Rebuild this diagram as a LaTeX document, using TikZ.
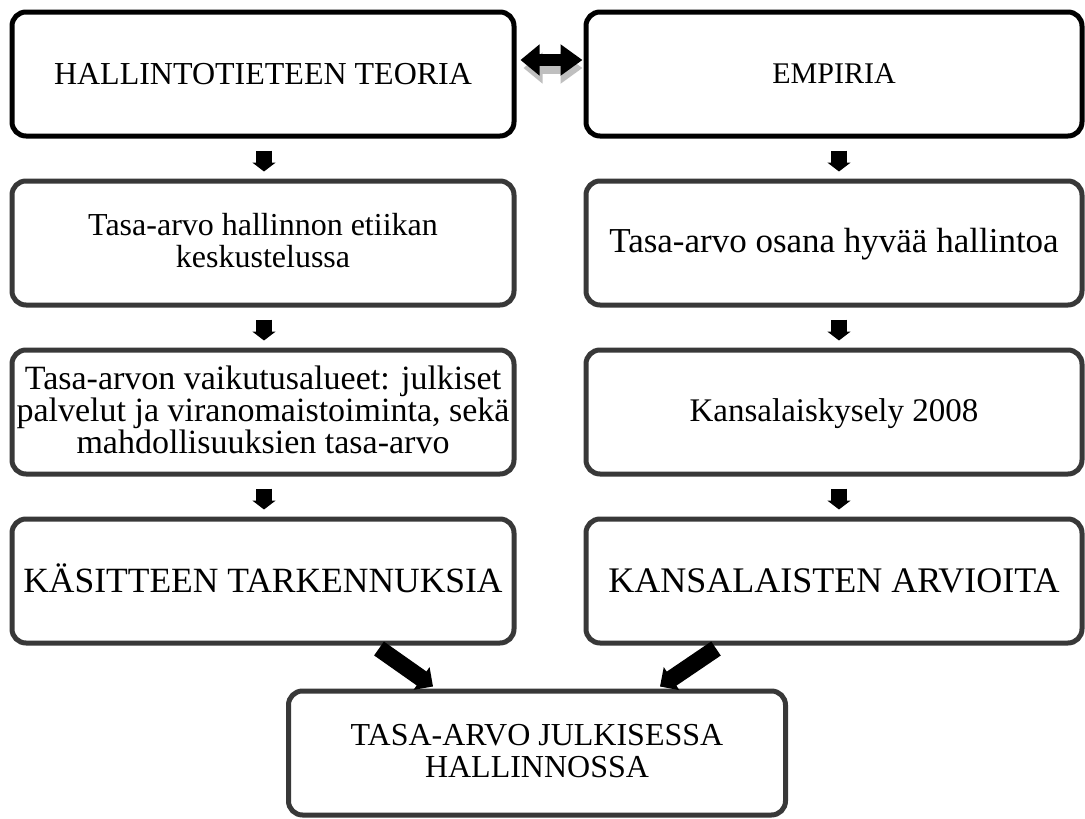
\documentclass[tikz,border=0pt]{standalone}
\usepackage{fontspec}
\setmainfont{Liberation Serif}
\usetikzlibrary{arrows.meta}
\newcommand{\fs}[1]{\fontsize{#1}{32}\selectfont}
\newcommand{\capstrut}{\rule[-0.15em]{0pt}{0.93em}}
\tikzset{
  boxbase/.style={rounded corners=14pt, line width=5pt, align=center,
    minimum height=124pt, inner sep=2pt,
    execute at begin node=\capstrut, execute at end node=\capstrut},
  topbox/.style={boxbase, draw=black},
  lowbox/.style={boxbase, draw=black!78},
  downarrow/.style={line width=16pt, black, -{Triangle[width=23pt,length=9pt]}},
  diagarrow/.style={line width=17pt, black, -{Triangle[width=27pt,length=14pt]}},
  dblarrow/.style={line width=12pt, {Triangle[width=30pt,length=19pt]}-{Triangle[width=30pt,length=22pt]}},
}
\begin{document}
\begin{tikzpicture}[x=1pt,y=-1pt]
\useasboundingbox[fill=white] (0,0) rectangle (1085,819);
% boxes
\node[topbox, minimum width=502pt, font=\fs{32}] (l1) at (263,74) {HALLINTOTIETEEN TEORIA};
\node[topbox, minimum width=496pt, font=\fs{30}] (r1) at (834,74) {EMPIRIA};
\node[lowbox, minimum width=502pt, font=\fs{32}] (l2) at (263,243) {Tasa-arvo hallinnon etiikan\\keskustelussa};
\node[lowbox, minimum width=496pt, font=\fs{35}] (r2) at (834,243) {Tasa-arvo osana hyvää hallintoa};
\node[lowbox, minimum width=502pt, font=\fs{34}] (l3) at (263,412) {Tasa-arvon vaikutusalueet: julkiset\\palvelut ja viranomaistoiminta, sekä\\mahdollisuuksien tasa-arvo};
\node[lowbox, minimum width=496pt, font=\fs{33}] (r3) at (834,412) {Kansalaiskysely 2008};
\node[lowbox, minimum width=502pt, font=\fs{35.5}] (l4) at (263,581) {KÄSITTEEN TARKENNUKSIA};
\node[lowbox, minimum width=496pt, font=\fs{36}] (r4) at (834,581) {KANSALAISTEN ARVIOITA};
\node[lowbox, minimum width=497pt, font=\fs{32}] (b) at (537,753) {TASA-ARVO JULKISESSA\\HALLINNOSSA};
% double arrow with shadow
\draw[dblarrow, draw=black!25, fill=black!25] ([xshift=7pt,yshift=6pt]l1.east) -- ([xshift=-1pt,yshift=6pt]r1.west);
\draw[dblarrow, black] ([xshift=4pt,yshift=14pt]l1.east) -- ([xshift=-1pt,yshift=14pt]r1.west);
% down arrows
\draw[downarrow] ([xshift=1pt,yshift=-12pt]l1.south) -- ([xshift=1pt,yshift=-33pt]l1.south);
\draw[downarrow] ([xshift=5pt,yshift=-12pt]r1.south) -- ([xshift=5pt,yshift=-33pt]r1.south);
\draw[downarrow] ([xshift=1pt,yshift=-12pt]l2.south) -- ([xshift=1pt,yshift=-33pt]l2.south);
\draw[downarrow] ([xshift=5pt,yshift=-12pt]r2.south) -- ([xshift=5pt,yshift=-33pt]r2.south);
\draw[downarrow] ([xshift=1pt,yshift=-12pt]l3.south) -- ([xshift=1pt,yshift=-33pt]l3.south);
\draw[downarrow] ([xshift=5pt,yshift=-12pt]r3.south) -- ([xshift=5pt,yshift=-33pt]r3.south);
% diagonal arrows
\draw[diagarrow] ([xshift=116pt,yshift=-3pt]l4.south) -- ([xshift=-104pt,yshift=2pt]b.north);
\draw[diagarrow] ([xshift=-118pt,yshift=-3pt]r4.south) -- ([xshift=123pt,yshift=2pt]b.north);
\end{tikzpicture}
\end{document}
